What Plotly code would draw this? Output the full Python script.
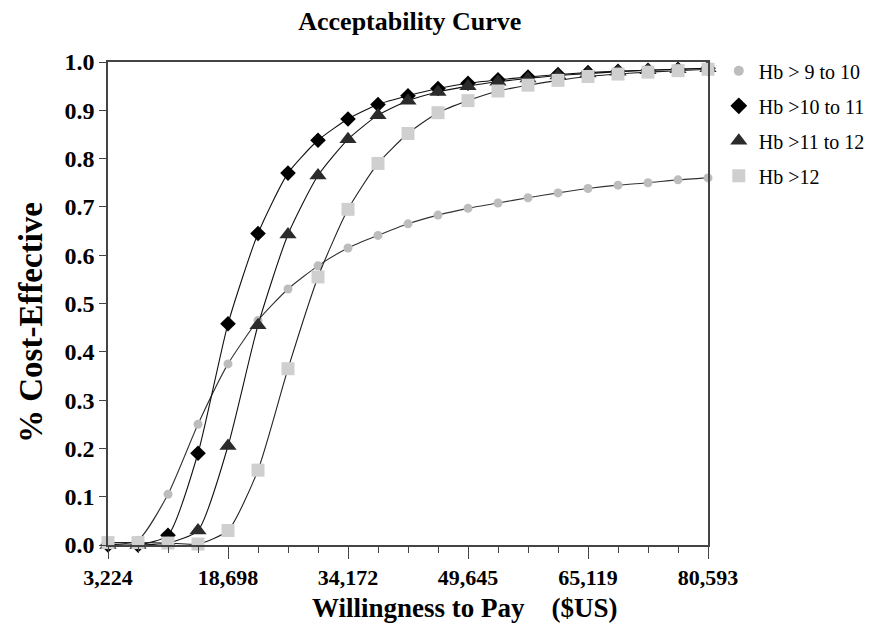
import plotly.graph_objects as go

# Willingness to pay grid (21 points, step = one minor tick)
wtp = [3224, 7092, 10961, 14829, 18698, 22566, 26435, 30303, 34172, 38040,
       41909, 45777, 49645, 53514, 57382, 61251, 65119, 68988, 72856, 76725, 80593]

hb_9_10 = [0.0, 0.01, 0.105, 0.25, 0.375, 0.465, 0.53, 0.578, 0.615, 0.641,
           0.665, 0.683, 0.697, 0.708, 0.719, 0.729, 0.738, 0.745, 0.750, 0.756, 0.760]
hb_10_11 = [0.0, 0.0, 0.02, 0.19, 0.458, 0.645, 0.77, 0.838, 0.882, 0.912,
            0.930, 0.945, 0.956, 0.963, 0.969, 0.974, 0.978, 0.981, 0.983, 0.985, 0.987]
hb_11_12 = [0.0, 0.0, 0.004, 0.03, 0.205, 0.455, 0.643, 0.765, 0.840, 0.890,
            0.920, 0.938, 0.950, 0.959, 0.966, 0.972, 0.976, 0.980, 0.983, 0.985, 0.987]
hb_12 = [0.005, 0.005, 0.004, 0.002, 0.03, 0.155, 0.365, 0.555, 0.695, 0.790,
         0.852, 0.895, 0.920, 0.940, 0.952, 0.962, 0.970, 0.975, 0.979, 0.982, 0.985]

names = ["Hb > 9 to 10", "Hb >10 to 11", "Hb >11 to 12", "Hb >12"]
series = [hb_9_10, hb_10_11, hb_11_12, hb_12]
symbols = ["circle", "diamond", "triangle-up", "square"]
colors = ["#bdbdbd", "#000000", "#2b2b2b", "#cfcfcf"]
sizes = [9, 12, 15, 13]
legend_sizes = [10, 13, 15, 13]
line_colors = ["#333333", "#111111", "#111111", "#222222"]

major_ticks = [3224, 18698, 34172, 49645, 65119, 80593]
major_labels = ["3,224", "18,698", "34,172", "49,645", "65,119", "80,593"]
y_ticks = [0.0, 0.1, 0.2, 0.3, 0.4, 0.5, 0.6, 0.7, 0.8, 0.9, 1.0]

x_title = "Willingness to Pay\u00a0\u00a0\u00a0\u00a0($US)"
y_title = "% Cost-Effective"

FONT = "Liberation Serif"

fig = go.Figure()
for i in [0, 1, 2, 3]:
    fig.add_trace(go.Scatter(
        x=wtp, y=series[i], mode="lines+markers", showlegend=False,
        line=dict(color=line_colors[i], width=1.1, shape="spline", smoothing=0.6),
        marker=dict(symbol=symbols[i], size=sizes[i], color=colors[i], line=dict(width=0)),
        cliponaxis=False,
    ))
for i in range(4):
    fig.add_trace(go.Scatter(
        x=[None], y=[None], mode="markers", name=names[i],
        legendgroup=f"g{i}",
        marker=dict(symbol=symbols[i], size=legend_sizes[i], color=colors[i]),
    ))

fig.update_layout(
    width=866, height=621,
    paper_bgcolor="white", plot_bgcolor="white",
    margin=dict(l=100, r=166, t=54, b=84, autoexpand=False),
    font=dict(family=FONT, color="black"),
    title=dict(text="Acceptability Curve", x=0.464, xanchor="center", y=0.98, yanchor="middle",
               font=dict(family=FONT, size=26, weight=700, color="black")),
    legend=dict(x=1.018, y=1.022, xanchor="left", yanchor="top",
                font=dict(family=FONT, size=20, color="black"),
                tracegroupgap=6, itemsizing="trace", itemwidth=30, bgcolor="rgba(0,0,0,0)"),
    xaxis=dict(
        range=[3224, 80593], tickmode="array", tickvals=major_ticks, ticktext=major_labels,
        ticks="outside", ticklen=12, tickwidth=1.3, tickcolor="#444",
        minor=dict(tickmode="array", tickvals=wtp, ticks="outside", ticklen=6, tickwidth=1.2, tickcolor="#444"),
        showline=True, linecolor="#444", linewidth=1.5, mirror=True, showgrid=False, zeroline=False,
        tickfont=dict(family=FONT, size=22, weight=700, color="black"),
    ),
    yaxis=dict(
        range=[0, 1.0], tickmode="array", tickvals=y_ticks,
        ticktext=[f"{v:.1f}" for v in y_ticks],
        ticks="outside", ticklen=7, tickwidth=1.3, tickcolor="#444",
        showline=True, linecolor="#444", linewidth=1.5, mirror=True, showgrid=False, zeroline=False,
        tickfont=dict(family=FONT, size=24, weight=700, color="black"),
    ),
    annotations=[
        dict(text=x_title, xref="paper", yref="paper", x=0.337, y=-0.13,
             xanchor="left", yanchor="middle", showarrow=False,
             font=dict(family=FONT, size=27, weight=700, color="black")),
        dict(text=y_title, xref="paper", yref="paper", x=-0.128, y=0.46,
             xanchor="center", yanchor="middle", textangle=-90, showarrow=False,
             font=dict(family=FONT, size=33, weight=700, color="black")),
    ],
)

fig.write_html("out.html")
